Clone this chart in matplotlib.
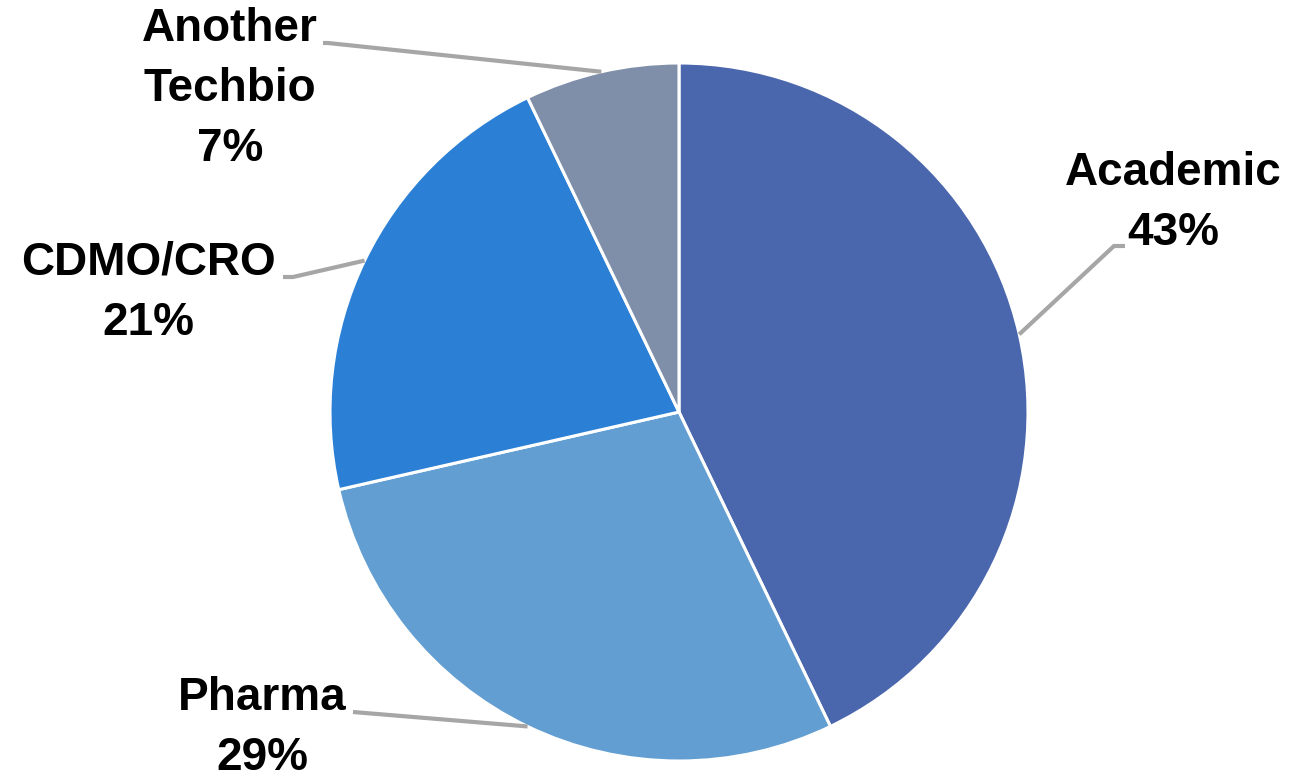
import numpy as np
import matplotlib
matplotlib.use("Agg")
import matplotlib.pyplot as plt

# Respondent breakdown by organisation type
categories = ["Academic", "Pharma", "CDMO/CRO", "Another\nTechbio"]
counts = [12, 8, 6, 2]
colors = ["#4A66AC", "#629ED1", "#2B7FD5", "#7F8FA9"]

W, H = 1289, 776
fig = plt.figure(figsize=(W / 100, H / 100), dpi=100)
ax = fig.add_axes([0, 0, 1, 1])

cx, cy, r = 679, H - 412, 349
wedges, _ = ax.pie(counts, colors=colors, startangle=90, counterclock=False,
                   center=(cx, cy), radius=r,
                   wedgeprops=dict(edgecolor="white", linewidth=2.2))
ax.set_xlim(0, W)
ax.set_ylim(0, H)
ax.set_aspect("auto")
ax.axis("off")

total = sum(counts)
pcts = [100 * c / total for c in counts]

# label layout: (elbow point, line end, text centre) in pixel coords (y down)
layout = [
    ((1114, 246), (1125, 246), (1173, 203)),
    ((353, 712), (353, 712), (262, 728)),
    ((293, 277), (283, 277), (148, 293)),
    ((328, 43), (323, 43), (230, 89)),
]

for w, label, pct, (elbow, end, tpos) in zip(wedges, categories, pcts, layout):
    mid = np.deg2rad((w.theta1 + w.theta2) / 2)
    sx = cx + r * np.cos(mid)
    sy = cy + r * np.sin(mid)
    ax.plot([sx, elbow[0], end[0]], [sy, H - elbow[1], H - end[1]],
            color="#A6A6A6", lw=3.0, solid_joinstyle="miter",
            solid_capstyle="butt", zorder=1)
    ax.text(tpos[0], H - tpos[1], f"{label}\n{pct:.0f}%", ha="center", va="center",
            fontsize=33, fontweight="bold", family="Liberation Sans",
            linespacing=1.48, color="black")

fig.savefig("out.png", dpi=100)
